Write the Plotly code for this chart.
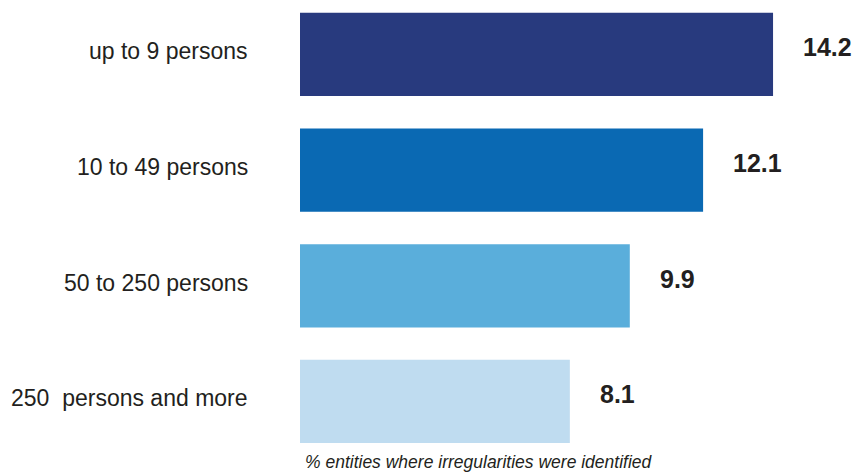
import plotly.graph_objects as go

categories = ["up to 9 persons", "10 to 49 persons", "50 to 250 persons", "250  persons and more"]
values = [14.2, 12.1, 9.9, 8.1]
value_labels = ["14.2", "12.1", "9.9", "8.1"]
colors = ["#283a7e", "#0a69b3", "#5aaedb", "#bfdcf0"]
footer = "% entities where irregularities were identified"

fig = go.Figure()
fig.add_trace(go.Bar(
    x=values, y=categories, orientation="h",
    marker=dict(color=colors, line=dict(width=0)),
    width=0.72, hoverinfo="skip",
))

for cat, v, lab in zip(categories, values, value_labels):
    fig.add_annotation(x=v, y=cat, xref="x", yref="y", text="<b>" + lab + "</b>",
                       showarrow=False, xanchor="left", yanchor="middle",
                       xshift=28, yshift=7,
                       font=dict(family="Liberation Sans, Arial, sans-serif", size=25, color="#231f20"))
    fig.add_annotation(x=0, y=cat, xref="paper", yref="y", text=cat,
                       showarrow=False, xanchor="right", yanchor="middle",
                       xshift=-50, yshift=3,
                       font=dict(family="Liberation Sans, Arial, sans-serif", size=23, color="#231f20"))

fig.add_annotation(x=0, y=0, xref="paper", yref="paper", text="<i>" + footer + "</i>",
                   showarrow=False, xanchor="left", yanchor="middle", xshift=3, yshift=-2,
                   font=dict(family="Liberation Sans, Arial, sans-serif", size=17.5, color="#231f20"))

fig.update_layout(
    width=853, height=472,
    margin=dict(l=300, r=0, t=0, b=12),
    paper_bgcolor="white", plot_bgcolor="white",
    showlegend=False,
    xaxis=dict(range=[0, 16.6], visible=False, fixedrange=True),
    yaxis=dict(range=[3.506, -0.471], showticklabels=False, showgrid=False,
               zeroline=False, fixedrange=True),
)

fig.write_html("out.html", config={"displayModeBar": False})
